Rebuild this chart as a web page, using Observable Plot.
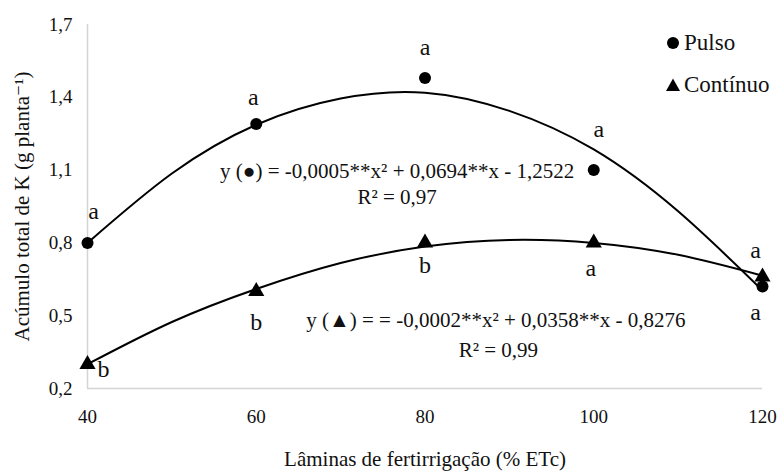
<!DOCTYPE html>
<html>
<head>
<meta charset="utf-8">
<script src="https://cdn.jsdelivr.net/npm/d3@7"></script>
<script src="https://cdn.jsdelivr.net/npm/@observablehq/plot@0.6"></script>
<style>
  html, body { margin: 0; padding: 0; background: #fff; }
  #wrap { position: relative; width: 779px; height: 473px; font-family: "Liberation Serif", "DejaVu Serif", serif; color: #111; }
  #wrap svg { font-family: "Liberation Serif", "DejaVu Serif", serif; }
  #legend { position: absolute; left: 666px; top: 22px; font-size: 23px; line-height: 42px; }
  #legend .row { display: flex; align-items: center; height: 42px; }
  #legend svg { margin-right: 4px; }
</style>
</head>
<body>
<div id="wrap"></div>
<script>
// ---- data ----
const xTicks = [40, 60, 80, 100, 120];
const yTicks = [0.2, 0.5, 0.8, 1.1, 1.4, 1.7];
const doses = [40, 60, 80, 100, 120];
const pulso = [0.80, 1.29, 1.48, 1.10, 0.62];
const continuo = [0.30, 0.60, 0.80, 0.80, 0.66];
const pulsoLetters = ["a", "a", "a", "a", "a"];
const continuoLetters = ["b", "b", "b", "a", "a"];
// fitted curves
const curveX = [40, 50, 60, 70, 80, 90, 100, 110, 120];
const pulsoCurve = [0.80, 1.086, 1.287, 1.395, 1.419, 1.344, 1.185, 0.93, 0.604];
const continuoCurve = [0.30, 0.474, 0.61, 0.717, 0.785, 0.812, 0.80, 0.751, 0.665];
const seriesNames = ["Pulso", "Contínuo"];
const equations = [
  "y (●) = -0,0005**x² + 0,0694**x - 1,2522",
  "R² = 0,97",
  "y (▲) = = -0,0002**x² + 0,0358**x - 0,8276",
  "R² = 0,99"
];
const xTitle = "Lâminas de fertirrigação (% ETc)";
const yTitle = "Acúmulo total de K (g planta⁻¹)";

// ---- tables ----
const pts = (vals, letters) => doses.map((x, i) => ({x, y: vals[i], letter: letters[i]}));
const pulsoPts = pts(pulso, pulsoLetters);
const contPts = pts(continuo, continuoLetters);
const curve = vals => curveX.map((x, i) => ({x, y: vals[i]}));
const eqAnchors = [[76.7, 1.094], [76.7, 0.987], [88.4, 0.48], [88.7, 0.357]];
const eqTable = equations.map((t, i) => ({text: t, x: eqAnchors[i][0], y: eqAnchors[i][1]}));

const FONT = "Liberation Serif, DejaVu Serif, serif";
const fmt = d => d.toFixed(1).replace(".", ",");

function letter(data, xv, dx, dy) {
  return Plot.text(data.filter(d => d.x === xv), {
    x: "x", y: "y", text: "letter", dx, dy, fontSize: 24, fill: "#111"
  });
}

const chart = Plot.plot({
  width: 779,
  height: 473,
  marginLeft: 87,
  marginRight: 17,
  marginTop: 24,
  marginBottom: 85,
  style: {fontFamily: FONT, background: "#fff", color: "#111"},
  x: {domain: [40, 120], label: null},
  y: {domain: [0.2, 1.7], label: null},
  marks: [
    Plot.ruleX([40], {stroke: "#d4d4d4", strokeWidth: 1.5}),
    Plot.ruleY([0.2], {stroke: "#d4d4d4", strokeWidth: 1.5}),
    Plot.axisX({ticks: xTicks, tickSize: 0, tickPadding: 21, fontSize: 19, label: null, tickFormat: d => String(d)}),
    Plot.axisY({ticks: yTicks, tickSize: 0, tickPadding: 15, fontSize: 19, label: null, tickFormat: fmt}),
    Plot.line(curve(pulsoCurve), {x: "x", y: "y", curve: "natural", stroke: "#000", strokeWidth: 2}),
    Plot.line(curve(continuoCurve), {x: "x", y: "y", curve: "natural", stroke: "#000", strokeWidth: 2}),
    Plot.dot(pulsoPts, {x: "x", y: "y", r: 6, symbol: "circle", fill: "#000"}),
    Plot.dot(contPts, {x: "x", y: "y", r: 6, symbol: "triangle", fill: "#000"}),
    letter(pulsoPts, 40, 6, -32),
    letter(pulsoPts, 60, -3, -27),
    letter(pulsoPts, 80, 0, -31),
    letter(pulsoPts, 100, 5, -41),
    letter(pulsoPts, 120, -7, 26),
    letter(contPts, 40, 16, 5),
    letter(contPts, 60, 0, 31),
    letter(contPts, 80, 0, 22),
    letter(contPts, 100, -3, 25),
    letter(contPts, 120, -7, -27),
    Plot.text(eqTable, {x: "x", y: "y", text: "text", fontSize: 21, fill: "#111"}),
    Plot.text([xTitle], {text: d => d, frameAnchor: "bottom", textAnchor: "middle", lineAnchor: "middle", dy: 71, fontSize: 21, fill: "#111"}),
    Plot.text([yTitle], {text: d => d, frameAnchor: "left", textAnchor: "middle", lineAnchor: "middle", dx: -65, rotate: -90, fontSize: 21, fill: "#111"})
  ]
});

const wrap = document.getElementById("wrap");
wrap.appendChild(chart);

// legend
const legend = document.createElement("div");
legend.id = "legend";
const symbols = [
  '<svg width="14" height="14" viewBox="-7 -7 14 14"><circle r="6" fill="#000"/></svg>',
  '<svg width="14" height="14" viewBox="-7 -7 14 14"><path d="M0,-6.5L7,6L-7,6Z" fill="#000"/></svg>'
];
seriesNames.forEach((name, i) => {
  const row = document.createElement("div");
  row.className = "row";
  row.innerHTML = symbols[i] + "<span>" + name + "</span>";
  legend.appendChild(row);
});
wrap.appendChild(legend);
</script>
</body>
</html>
